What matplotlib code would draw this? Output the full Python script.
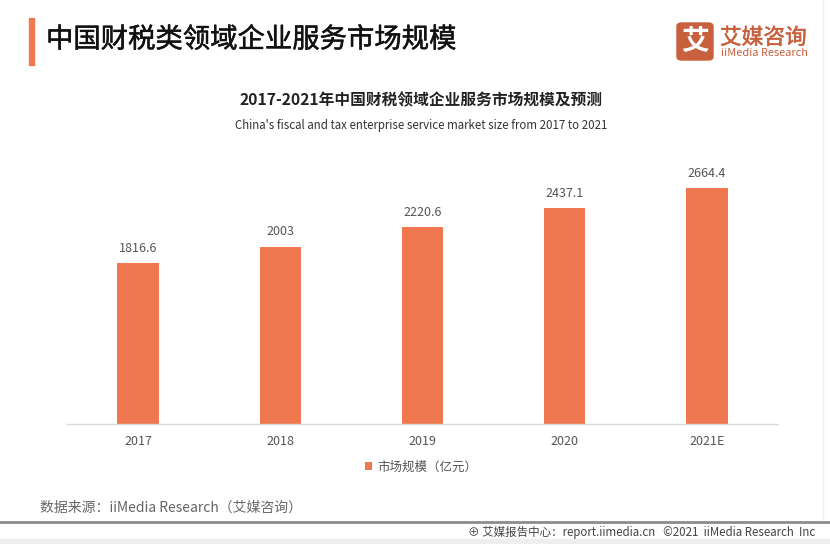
import matplotlib
matplotlib.use("Agg")
import matplotlib.pyplot as plt
import matplotlib.patheffects as pe
from matplotlib.patches import Rectangle, FancyBboxPatch
from matplotlib.lines import Line2D

plt.rcParams['font.family'] = ['Noto Sans CJK SC', 'DejaVu Sans']

categories = ['2017', '2018', '2019', '2020', '2021E']
values = [1816.6, 2003, 2220.6, 2437.1, 2664.4]
value_labels = ['1816.6', '2003', '2220.6', '2437.1', '2664.4']
series_name = '市场规模（亿元）'

BAR = '#EF7850'
LOGO = '#C9603D'
W, H = 830, 544
fig = plt.figure(figsize=(W / 100, H / 100), dpi=100)

def fx(x):
    return x / W

def fy(y):
    return 1 - y / H

# header
fig.patches.append(Rectangle((fx(29), fy(65)), fx(5), (65 - 18) / H, transform=fig.transFigure,
                             color=BAR, zorder=2))
fig.text(fx(46), fy(40), '中国财税类领域企业服务市场规模', fontsize=19.7, color='#111111',
         va='center', ha='left',
         path_effects=[pe.withStroke(linewidth=0.35, foreground='#111111')])

# logo
fig.patches.append(FancyBboxPatch((fx(677), fy(60)), fx(36), (60 - 23) / H,
                                  boxstyle='round,pad=0,rounding_size=0.006',
                                  transform=fig.transFigure, color=LOGO, zorder=2))
fig.text(fx(695), fy(42), '艾', fontsize=20, color='white', ha='center', va='center',
         fontweight='bold', zorder=3)
fig.text(fx(720), fy(38), '艾媒咨询', fontsize=15.6, color=LOGO, ha='left', va='center',
         path_effects=[pe.withStroke(linewidth=0.4, foreground=LOGO)])
fig.text(fx(721), fy(53.5), 'iiMedia Research', fontsize=7.9, color=LOGO, ha='left', va='center')
fig.lines.append(Line2D([fx(823), fx(823)], [fy(0), fy(520)], transform=fig.transFigure,
                        color='#eeeeee', lw=1))

# chart titles
fig.text(fx(421), fy(100), '2017-2021年中国财税领域企业服务市场规模及预测', fontsize=11.3,
         fontweight='bold', color='#222222', ha='center', va='center')
fig.text(fx(421), fy(125), "China's fiscal and tax enterprise service market size from 2017 to 2021",
         fontsize=8.3, color='#333333', ha='center', va='center')

# axes
ax = fig.add_axes([fx(67), 1 - 424 / H, fx(778 - 67), (424 - 140) / H])
x = range(len(categories))
bars = ax.bar(x, values, width=0.29, color=BAR, label=series_name, zorder=2)
ax.set_xlim(-0.5, len(categories) - 0.5)
ax.set_ylim(0, 3205)
for xi, v, lab in zip(x, values, value_labels):
    ax.annotate(lab, (xi, v), xytext=(0, 6), textcoords='offset points', ha='center',
                va='bottom', fontsize=9, color='#555555')
ax.set_xticks(list(x))
ax.set_xticklabels(categories, fontsize=9, color='#555555')
ax.tick_params(axis='x', length=0, pad=8)
ax.set_yticks([])
for s in ['top', 'right', 'left']:
    ax.spines[s].set_visible(False)
ax.spines['bottom'].set_color('#d9d9d9')
ax.spines['bottom'].set_linewidth(1)

leg = fig.legend(handles=[bars], labels=[series_name], loc='center',
                 bbox_to_anchor=(fx(421), fy(467)), frameon=False, fontsize=9,
                 handlelength=0.6, handleheight=0.6, handletextpad=0.4)
for t in leg.get_texts():
    t.set_color('#555555')

# source
fig.text(fx(40), fy(508), '数据来源：iiMedia Research（艾媒咨询）', fontsize=10, color='#666666',
         ha='left', va='center')

# footer
fig.lines.append(Line2D([0, 1], [fy(522), fy(522)], transform=fig.transFigure,
                        color='#8c8c8c', lw=2))
fig.patches.append(Rectangle((0, 0), 1, (544 - 539) / H, transform=fig.transFigure,
                             color='#eeeeee', zorder=1))
fig.text(fx(815), fy(532), '⊕ 艾媒报告中心：report.iimedia.cn   ©2021  iiMedia Research  Inc',
         fontsize=8.3, color='#444444', ha='right', va='center')

fig.savefig('out.png', dpi=100)
